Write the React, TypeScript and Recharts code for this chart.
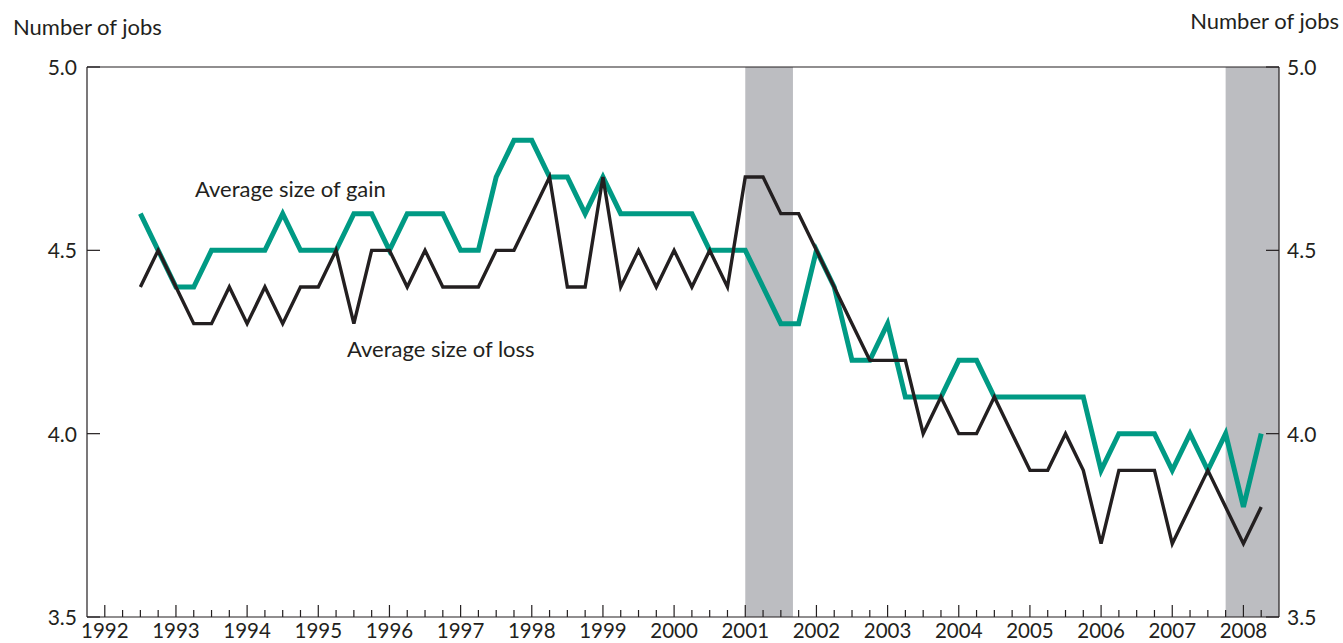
import { LineChart, Line, XAxis, YAxis, ReferenceArea, ReferenceLine } from 'recharts'

const years = [1992, 1993, 1994, 1995, 1996, 1997, 1998, 1999, 2000, 2001, 2002, 2003, 2004, 2005, 2006, 2007, 2008]

// quarterly periods, 1992 Q3 through 2008 Q2 (Q1 sits on the year tick)
const periods = years.flatMap((y) => [y, y + 0.25, y + 0.5, y + 0.75]).slice(2, 66)

const gainValues = [
	4.6, 4.5,
	4.4, 4.4, 4.5, 4.5,
	4.5, 4.5, 4.6, 4.5,
	4.5, 4.5, 4.6, 4.6,
	4.5, 4.6, 4.6, 4.6,
	4.5, 4.5, 4.7, 4.8,
	4.8, 4.7, 4.7, 4.6,
	4.7, 4.6, 4.6, 4.6,
	4.6, 4.6, 4.5, 4.5,
	4.5, 4.4, 4.3, 4.3,
	4.5, 4.4, 4.2, 4.2,
	4.3, 4.1, 4.1, 4.1,
	4.2, 4.2, 4.1, 4.1,
	4.1, 4.1, 4.1, 4.1,
	3.9, 4.0, 4.0, 4.0,
	3.9, 4.0, 3.9, 4.0,
	3.8, 4.0,
]

const lossValues = [
	4.4, 4.5,
	4.4, 4.3, 4.3, 4.4,
	4.3, 4.4, 4.3, 4.4,
	4.4, 4.5, 4.3, 4.5,
	4.5, 4.4, 4.5, 4.4,
	4.4, 4.4, 4.5, 4.5,
	4.6, 4.7, 4.4, 4.4,
	4.7, 4.4, 4.5, 4.4,
	4.5, 4.4, 4.5, 4.4,
	4.7, 4.7, 4.6, 4.6,
	4.5, 4.4, 4.3, 4.2,
	4.2, 4.2, 4.0, 4.1,
	4.0, 4.0, 4.1, 4.0,
	3.9, 3.9, 4.0, 3.9,
	3.7, 3.9, 3.9, 3.9,
	3.7, 3.8, 3.9, 3.8,
	3.7, 3.8,
]

const recessionStarts = [2001, 2007.75]
const recessionEnds = [2001.67, 2008.5]

const yTicks = [3.5, 4.0, 4.5, 5.0]
const xTicks = years.flatMap((y) => [y, y + 0.25, y + 0.5, y + 0.75]).filter((t) => t <= 2008.25)

const data = periods.map((t, i) => ({ t, gain: gainValues[i], loss: lossValues[i] }))

const INK = '#231F20'
const FONT = 'Lato, "Open Sans", sans-serif'

function XTick({ x, y, payload }: any) {
	const v = payload.value
	const major = Number.isInteger(v)
	return (
		<g>
			<line x1={x} x2={x} y1={y} y2={y - (major ? 12 : 7)} stroke={INK} strokeWidth={1.2} />
			{major && (
				<text x={x} y={y + 21} textAnchor='middle' fontSize={20.5} fill={INK} fontFamily={FONT}>
					{v}
				</text>
			)}
		</g>
	)
}

function LeftTick({ x, y, payload }: any) {
	return (
		<g>
			<line x1={x} x2={x + 13} y1={y} y2={y} stroke={INK} strokeWidth={1.2} />
			<text x={x - 10} y={y + 8} textAnchor='end' fontSize={21} fill={INK} fontFamily={FONT}>
				{payload.value.toFixed(1)}
			</text>
		</g>
	)
}

function RightTick({ x, y, payload }: any) {
	return (
		<g>
			<line x1={x} x2={x - 13} y1={y} y2={y} stroke={INK} strokeWidth={1.2} />
			<text x={x + 8} y={y + 8} textAnchor='start' fontSize={21} fill={INK} fontFamily={FONT}>
				{payload.value.toFixed(1)}
			</text>
		</g>
	)
}

export default function App() {
	return (
		<div style={{ position: 'absolute', left: 0, top: 0, width: 1343, height: 643, background: '#fff' }}>
			<LineChart width={1343} height={643} data={data} margin={{ top: 67, right: 0, bottom: 0, left: 0 }}>
				{recessionStarts.map((s, i) => (
					<ReferenceArea
						key={s}
						x1={s}
						x2={recessionEnds[i]}
						yAxisId='left'
						fill='#BCBDC1'
						fillOpacity={1}
						stroke='none'
						ifOverflow='hidden'
					/>
				))}
				<XAxis
					dataKey='t'
					type='number'
					domain={[1991.75, 2008.5]}
					ticks={xTicks}
					interval={0}
					height={26}
					tickSize={0}
					tickMargin={0}
					tick={<XTick />}
					axisLine={{ stroke: INK, strokeWidth: 1.2 }}
					allowDataOverflow
				/>
				<YAxis
					yAxisId='left'
					orientation='left'
					domain={[3.5, 5]}
					ticks={yTicks}
					width={87}
					tickSize={0}
					tickMargin={0}
					tick={<LeftTick />}
					axisLine={{ stroke: INK, strokeWidth: 1.2 }}
					allowDataOverflow
				/>
				<YAxis
					yAxisId='right'
					orientation='right'
					domain={[3.5, 5]}
					ticks={yTicks}
					width={64}
					tickSize={0}
					tickMargin={0}
					tick={<RightTick />}
					axisLine={{ stroke: INK, strokeWidth: 1.2 }}
					allowDataOverflow
				/>
				<ReferenceLine y={5} yAxisId='left' stroke={INK} strokeWidth={1.2} />
				<Line
					yAxisId='left'
					type='linear'
					dataKey='gain'
					stroke='#009A84'
					strokeWidth={5}
					dot={false}
					isAnimationActive={false}
				/>
				<Line
					yAxisId='left'
					type='linear'
					dataKey='loss'
					stroke={INK}
					strokeWidth={3.4}
					dot={false}
					isAnimationActive={false}
				/>
			</LineChart>
			<svg width={1343} height={643} style={{ position: 'absolute', left: 0, top: 0, pointerEvents: 'none' }}>
				<g fontFamily={FONT} fontSize={22} fill={INK}>
					<text x={13} y={35}>Number of jobs</text>
					<text x={1339} y={29} textAnchor='end'>Number of jobs</text>
					<text x={195} y={197}>Average size of gain</text>
					<text x={347} y={357}>Average size of loss</text>
				</g>
			</svg>
		</div>
	)
}
